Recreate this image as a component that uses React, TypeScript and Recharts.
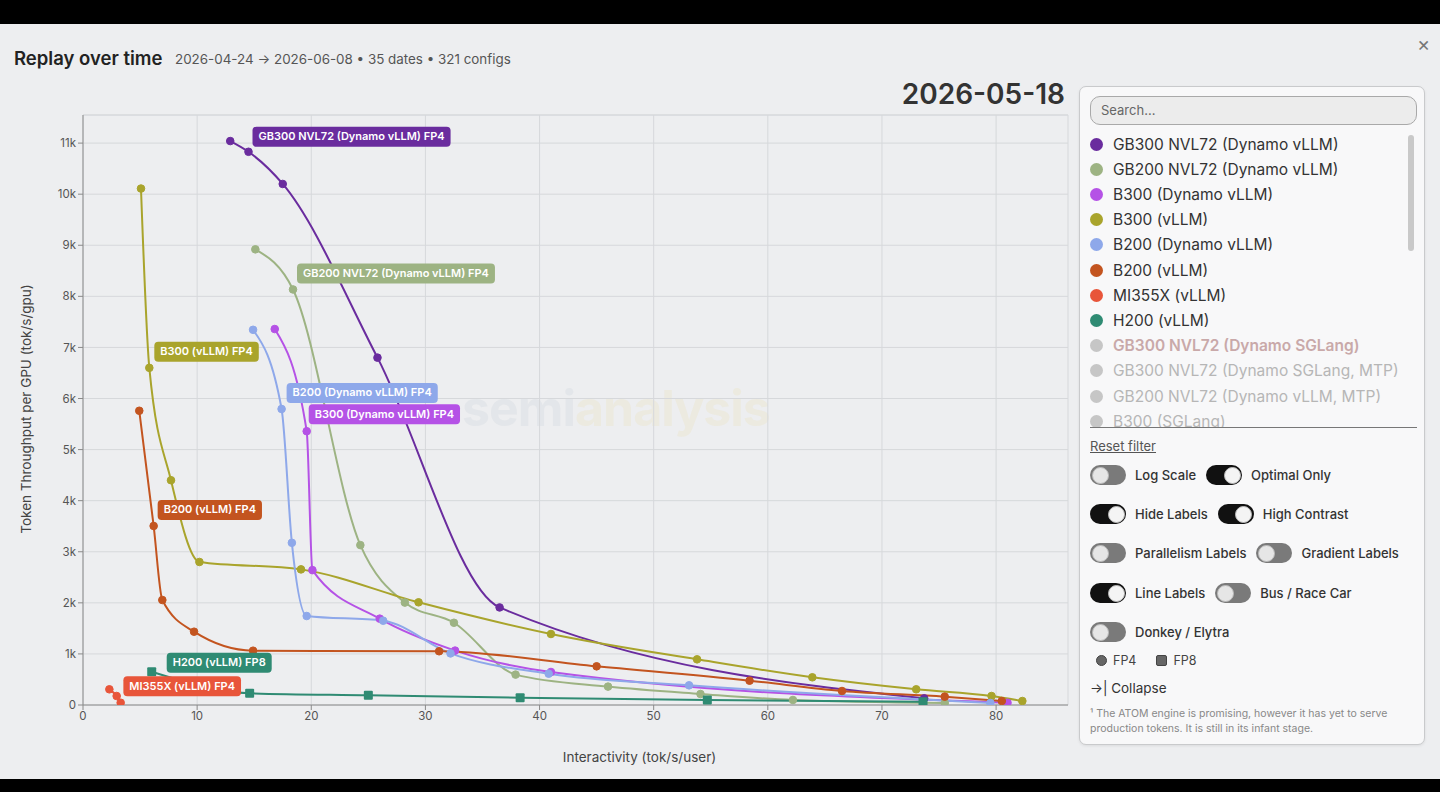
import React from 'react';
import { LineChart, Line, XAxis, YAxis, CartesianGrid, LabelList, ReferenceLine, Label } from 'recharts';

const FONT = 'Inter, "Noto Sans", "DejaVu Sans", sans-serif';

// ---------- data ----------
const xTicks = [0, 10, 20, 30, 40, 50, 60, 70, 80];
const yTicks = [0, 1000, 2000, 3000, 4000, 5000, 6000, 7000, 8000, 9000, 10000, 11000];

// [interactivity (tok/s/user), throughput per GPU (tok/s/gpu)]
const gb300Nvl72DynamoVllm = [[12.9, 11040], [14.5, 10830], [17.5, 10200], [25.8, 6800], [36.5, 1910], [73.7, 130]];
const gb200Nvl72DynamoVllm = [[15.1, 8920], [18.4, 8135], [24.3, 3130], [28.2, 2005], [32.5, 1610], [37.9, 595], [46.0, 360], [54.1, 215], [62.2, 98], [75.5, 40]];
const b300DynamoVllm = [[16.8, 7360], [19.6, 5360], [20.1, 2640], [26.0, 1690], [32.6, 1065], [41.0, 646], [81.0, 45]];
const b300Vllm = [[5.08, 10110], [5.81, 6600], [7.71, 4400], [10.2, 2800], [19.1, 2655], [29.4, 2010], [41.0, 1390], [53.8, 894], [63.9, 542], [73.0, 307], [79.6, 176], [82.3, 78]];
const b200DynamoVllm = [[14.9, 7345], [17.4, 5795], [18.3, 3175], [19.6, 1742], [26.3, 1650], [32.2, 1010], [40.8, 613], [53.1, 385], [79.5, 40]];
const b200Vllm = [[4.93, 5760], [6.19, 3505], [6.95, 2055], [9.73, 1435], [14.9, 1063], [31.2, 1052], [45.0, 757], [58.4, 476], [66.5, 274], [75.5, 163], [80.5, 78]];
const mi355xVllm = [[2.31, 307], [2.95, 176], [3.3, 45]];
const h200Vllm = [[6.02, 652], [14.6, 229], [25.0, 190], [38.3, 143], [54.7, 98], [73.6, 65]];

const seriesNames = [
  'GB300 NVL72 (Dynamo vLLM)',
  'GB200 NVL72 (Dynamo vLLM)',
  'B300 (Dynamo vLLM)',
  'B300 (vLLM)',
  'B200 (Dynamo vLLM)',
  'B200 (vLLM)',
  'MI355X (vLLM)',
  'H200 (vLLM)',
];
const seriesPrecision = ['FP4', 'FP4', 'FP4', 'FP4', 'FP4', 'FP4', 'FP4', 'FP8'];
const seriesValues = [gb300Nvl72DynamoVllm, gb200Nvl72DynamoVllm, b300DynamoVllm, b300Vllm, b200DynamoVllm, b200Vllm, mi355xVllm, h200Vllm];

const inactiveNames = [
  'GB300 NVL72 (Dynamo SGLang)',
  'GB300 NVL72 (Dynamo SGLang, MTP)',
  'GB200 NVL72 (Dynamo vLLM, MTP)',
  'B300 (SGLang)',
];

// ---------- styles ----------
const seriesColors = ['#6a2c9e', '#9db383', '#b552e6', '#a9a42c', '#8ea8ea', '#c3541f', '#e8553a', '#2f8b73'];
// label anchor: point index and offset (px)
const labelStyle = [
  { i: 1, dx: 4, dy: -15 },
  { i: 1, dx: 4, dy: -16 },
  { i: 1, dx: 2, dy: -17 },
  { i: 1, dx: 5, dy: -16 },
  { i: 1, dx: 5, dy: -16 },
  { i: 1, dx: 4, dy: -16 },
  { i: 0, dx: 14, dy: -3 },
  { i: 0, dx: 15, dy: -9 },
];

let _ctx: CanvasRenderingContext2D | null = null;
function textWidth(t: string, font: string) {
  if (!_ctx) {
    const c = document.createElement('canvas');
    _ctx = c.getContext('2d');
  }
  if (!_ctx) return t.length * 6.4;
  _ctx.font = font;
  return _ctx.measureText(t).width;
}

const LABEL_FONT = `600 11px ${FONT}`;

function makeLabel(s: number) {
  const text = `${seriesNames[s]} ${seriesPrecision[s]}`;
  const st = labelStyle[s];
  return (props: any) => {
    if (props.index !== st.i) return null;
    const px = props.x ?? props.viewBox?.x;
    const py = props.y ?? props.viewBox?.y;
    if (px == null || py == null) return null;
    const w = textWidth(text, LABEL_FONT) + 12;
    const h = 20;
    const x0 = px + st.dx;
    const cy = py + st.dy;
    return (
      <g key={`lbl-${s}`}>
        <rect x={x0} y={cy - h / 2} width={w} height={h} rx={4} ry={4} fill={seriesColors[s]} />
        <text x={x0 + 6} y={cy + 0.5} dominantBaseline="middle" fill="#ffffff" fontSize={11} fontWeight={600} fontFamily={FONT}>
          {text}
        </text>
      </g>
    );
  };
}

function SquareDot(props: any) {
  const { cx, cy, fill } = props;
  if (cx == null || cy == null) return null;
  return <rect x={cx - 4.5} y={cy - 4.5} width={9} height={9} fill={fill} rx={1} />;
}

function Toggle({ on }: { on: boolean }) {
  return (
    <div
      style={{
        width: 36,
        height: 20,
        borderRadius: 10,
        background: on ? '#111' : '#7a7a7a',
        position: 'relative',
        flex: '0 0 auto',
      }}
    >
      <div
        style={{
          position: 'absolute',
          top: 1.5,
          left: on ? 17.5 : 1.5,
          width: 17,
          height: 17,
          borderRadius: 9,
          background: on ? '#f4f4f4' : '#e6e6e6',
          border: '1px solid #bbb',
          boxSizing: 'border-box',
        }}
      />
    </div>
  );
}

function ToggleItem({ on, label }: { on: boolean; label: string }) {
  return (
    <div style={{ display: 'flex', alignItems: 'center', marginRight: 10 }}>
      <Toggle on={on} />
      <span style={{ marginLeft: 9, fontSize: 13, color: '#333', fontWeight: 500 }}>{label}</span>
    </div>
  );
}

const yFmt = (v: number) => (v === 0 ? '0' : `${v / 1000}k`);

export default function App() {
  const data = seriesValues.map((arr) => arr.map(([x, y]) => ({ x, y })));

  const toggleRows: [boolean, string][][] = [
    [[false, 'Log Scale'], [true, 'Optimal Only']],
    [[true, 'Hide Labels'], [true, 'High Contrast']],
    [[false, 'Parallelism Labels'], [false, 'Gradient Labels']],
    [[true, 'Line Labels'], [false, 'Bus / Race Car']],
    [[false, 'Donkey / Elytra']],
  ];
  const toggleY = [474, 513, 552, 592, 631];

  return (
    <div
      style={{
        position: 'absolute',
        left: 0,
        top: 0,
        width: 1440,
        height: 792,
        background: '#edeef0',
        fontFamily: FONT,
        overflow: 'hidden',
      }}
    >
      <div style={{ position: 'absolute', left: 0, top: 0, width: 1440, height: 24, background: '#000' }} />
      <div style={{ position: 'absolute', left: 0, top: 779, width: 1440, height: 13, background: '#000' }} />

      {/* header */}
      <div style={{ position: 'absolute', left: 14, top: 45, lineHeight: '26px', fontSize: 18.5, fontWeight: 600, color: '#222' }}>
        Replay over time
      </div>
      <div style={{ position: 'absolute', left: 175, top: 50, lineHeight: '18px', fontSize: 13.4, color: '#555' }}>
        2026-04-24 → 2026-06-08 • 35 dates • 321 configs
      </div>
      <div style={{ position: 'absolute', left: 1417, top: 32, lineHeight: '24px', fontSize: 20, color: '#777' }}>×</div>
      <div
        style={{
          position: 'absolute',
          left: 800,
          width: 265,
          textAlign: 'right',
          top: 76,
          lineHeight: '36px',
          fontSize: 28,
          fontWeight: 600,
          color: '#333',
        }}
      >
        2026-05-18
      </div>

      {/* watermark */}
      <div
        style={{
          position: 'absolute',
          left: 462,
          top: 380,
          fontSize: 50,
          fontWeight: 700,
          lineHeight: '56px',
          letterSpacing: -1,
        }}
      >
        <span style={{ color: 'rgba(190,198,212,0.2)' }}>semi</span>
        <span style={{ color: 'rgba(236,222,176,0.25)' }}>analysis</span>
      </div>

      {/* chart */}
      <div style={{ position: 'absolute', left: 0, top: 0 }}>
        <LineChart width={1080} height={779} margin={{ top: 115, right: 12, bottom: 44, left: 33 }}>
          <CartesianGrid stroke="#d6d8db" strokeWidth={1} />
          <ReferenceLine y={11550} stroke="#d6d8db" strokeWidth={1} />
          <XAxis
            type="number"
            dataKey="x"
            domain={[0, 86.3]}
            ticks={xTicks}
            allowDataOverflow
            height={30}
            tick={{ fontSize: 11.5, fill: '#555', fontFamily: FONT }}
            stroke="#8a8a8a"
            tickSize={5}
          >
            <Label
              content={(p: any) => {
                const vb = p.viewBox || {};
                return (
                  <text
                    x={(vb.x ?? 83) + (vb.width ?? 985) / 2 + 64}
                    y={758}
                    textAnchor="middle"
                    dominantBaseline="middle"
                    fontSize={13.5}
                    fill="#444"
                    fontFamily={FONT}
                  >
                    Interactivity (tok/s/user)
                  </text>
                );
              }}
            />
          </XAxis>
          <YAxis
            type="number"
            dataKey="y"
            domain={[0, 11550]}
            ticks={yTicks}
            allowDataOverflow
            width={50}
            tickFormatter={yFmt}
            tick={{ fontSize: 11.5, fill: '#555', fontFamily: FONT }}
            stroke="#8a8a8a"
            tickSize={5}
          >
            <Label
              content={() => (
                <text
                  x={27}
                  y={409}
                  transform="rotate(-90 27 409)"
                  textAnchor="middle"
                  dominantBaseline="middle"
                  fontSize={13.5}
                  fill="#444"
                  fontFamily={FONT}
                >
                  Token Throughput per GPU (tok/s/gpu)
                </text>
              )}
            />
          </YAxis>

          {data.map((d, s) => (
            <Line
              key={`line-${s}`}
              data={d}
              dataKey="y"
              name={seriesNames[s]}
              type="monotone"
              stroke={seriesColors[s]}
              strokeWidth={2}
              isAnimationActive={false}
              activeDot={false}
              dot={
                seriesPrecision[s] === 'FP8'
                  ? (p: any) => <SquareDot key={`sq-${s}-${p.index}`} {...p} fill={seriesColors[s]} />
                  : { r: 3.8, fill: seriesColors[s], stroke: seriesColors[s], strokeWidth: 1 }
              }
            />
          ))}

          {data.map((d, s) => (
            <Line
              key={`lab-${s}`}
              data={d}
              dataKey="y"
              type="monotone"
              stroke="none"
              dot={false}
              activeDot={false}
              isAnimationActive={false}
              legendType="none"
            >
              <LabelList dataKey="y" content={makeLabel(s)} />
            </Line>
          ))}
        </LineChart>
      </div>

      {/* legend panel */}
      <div
        style={{
          position: 'absolute',
          left: 1079,
          top: 86,
          width: 346,
          height: 659,
          boxSizing: 'border-box',
          border: '1px solid #c9cacc',
          borderRadius: 7,
          background: '#f8f8f9',
          boxShadow: '0 1px 3px rgba(0,0,0,0.08)',
        }}
      >
        {/* search */}
        <div
          style={{
            position: 'absolute',
            left: 10,
            top: 9,
            width: 327,
            height: 29,
            boxSizing: 'border-box',
            border: '1.5px solid #a9a9a9',
            borderRadius: 10,
            background: '#ececec',
            fontSize: 13,
            color: '#666',
            lineHeight: '26px',
            paddingLeft: 10,
          }}
        >
          Search...
        </div>
        {/* list */}
        <div style={{ position: 'absolute', left: 0, top: 44, width: 330, height: 296, overflow: 'hidden' }}>
          {[...seriesNames, ...inactiveNames].map((n, i) => {
            const active = i < seriesNames.length;
            const color = active ? seriesColors[i] : '#c6c6c6';
            const textColor = active ? '#333' : i === seriesNames.length ? '#c9a9a9' : '#b6b6b6';
            return (
              <div
                key={n}
                style={{
                  position: 'absolute',
                  left: 10,
                  top: 13 + i * 25.2 - 10,
                  height: 20,
                  display: 'flex',
                  alignItems: 'center',
                  whiteSpace: 'nowrap',
                }}
              >
                <div style={{ width: 13, height: 13, borderRadius: 7, background: color }} />
                <span
                  style={{
                    marginLeft: 10,
                    fontSize: 15.5,
                    color: textColor,
                    fontWeight: i === seriesNames.length ? 600 : 400,
                  }}
                >
                  {n}
                </span>
              </div>
            );
          })}
        </div>
        {/* scrollbar */}
        <div style={{ position: 'absolute', left: 328, top: 48, width: 6, height: 116, borderRadius: 3, background: '#c9c9c9' }} />
        <div style={{ position: 'absolute', left: 10, top: 340, width: 327, height: 1, background: '#777' }} />

        <div
          style={{
            position: 'absolute',
            left: 10,
            top: 350,
            fontSize: 13,
            color: '#555',
            textDecoration: 'underline',
            lineHeight: '18px',
          }}
        >
          Reset filter
        </div>

        {toggleRows.map((row, r) => (
          <div
            key={`tr-${r}`}
            style={{ position: 'absolute', left: 10, top: toggleY[r] - 86 - 10, height: 20, display: 'flex', alignItems: 'center' }}
          >
            {row.map(([on, label]) => (
              <ToggleItem key={label} on={on} label={label} />
            ))}
          </div>
        ))}

        <div style={{ position: 'absolute', left: 16, top: 566, display: 'flex', alignItems: 'center', fontSize: 12.5, color: '#444' }}>
          <div style={{ width: 11, height: 11, borderRadius: 6, background: '#666', border: '1px solid #444', boxSizing: 'border-box' }} />
          <span style={{ marginLeft: 6 }}>FP4</span>
          <div
            style={{
              width: 11,
              height: 11,
              borderRadius: 2,
              background: '#666',
              border: '1px solid #444',
              boxSizing: 'border-box',
              marginLeft: 20,
            }}
          />
          <span style={{ marginLeft: 6 }}>FP8</span>
        </div>

        <div style={{ position: 'absolute', left: 10, top: 592, fontSize: 13.5, color: '#333', lineHeight: '18px' }}>
          →| Collapse
        </div>

        <div
          style={{
            position: 'absolute',
            left: 10,
            top: 620,
            width: 322,
            fontSize: 10.5,
            color: '#888',
            lineHeight: '14.5px',
          }}
        >
          ¹ The ATOM engine is promising, however it has yet to serve production tokens. It is still in its infant stage.
        </div>
      </div>
    </div>
  );
}
